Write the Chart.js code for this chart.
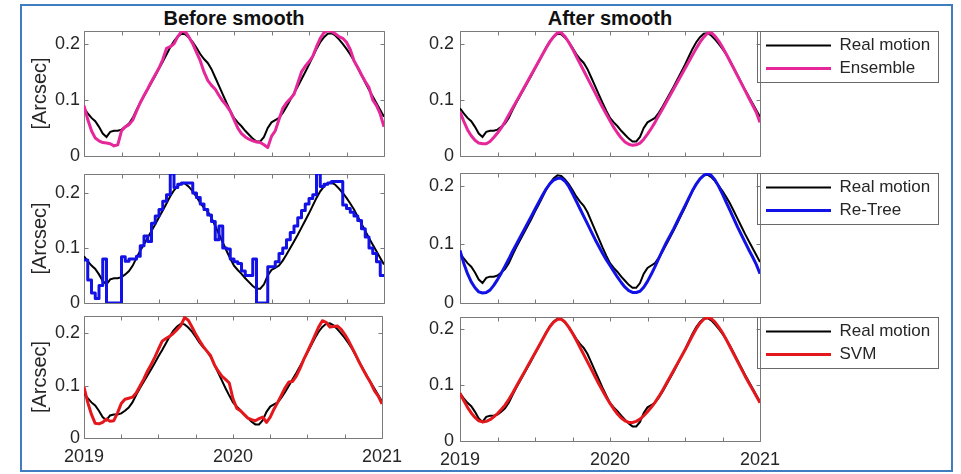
<!DOCTYPE html>
<html>
<head>
<meta charset="utf-8">
<script src="https://cdn.jsdelivr.net/npm/chart.js@4.4.1/dist/chart.umd.min.js"></script>
<style>
  html, body { margin: 0; padding: 0; background: #fff; }
  body { width: 961px; height: 474px; position: relative; overflow: hidden; font-family: "Liberation Sans", Arial, sans-serif; }
  .frame { position: absolute; left: 20px; top: 4px; width: 929px; height: 464px; border: 2px solid #3f7dc0; }
  canvas { position: absolute; }
  .title { position: absolute; width: 300px; text-align: center; font-weight: bold; font-size: 20px; line-height: 20px; color: #111; }
</style>
</head>
<body>
<div class="frame"></div>
<div class="title" style="left:84px; top:8px">Before smooth</div>
<div class="title" style="left:460px; top:8px">After smooth</div>
<canvas id="c1" width="389" height="161" style="left:21px; top:13px"></canvas>
<canvas id="c2" width="552" height="161" style="left:400px; top:13px"></canvas>
<canvas id="c3" width="389" height="165" style="left:21px; top:156px"></canvas>
<canvas id="c4" width="552" height="166" style="left:400px; top:155px"></canvas>
<canvas id="c5" width="389" height="170" style="left:21px; top:298px"></canvas>
<canvas id="c6" width="552" height="172" style="left:400px; top:299px"></canvas>
<script>
// sample times (decimal years)
const years = [
  2019, 2019.025, 2019.05, 2019.075, 2019.1, 2019.125, 2019.15, 2019.175, 2019.2, 2019.225,
  2019.25, 2019.275, 2019.3, 2019.325, 2019.35, 2019.375, 2019.4, 2019.425, 2019.45, 2019.475,
  2019.5, 2019.525, 2019.55, 2019.575, 2019.6, 2019.625, 2019.65, 2019.675, 2019.7, 2019.725,
  2019.75, 2019.775, 2019.8, 2019.825, 2019.85, 2019.875, 2019.9, 2019.925, 2019.95, 2019.975,
  2020, 2020.025, 2020.05, 2020.075, 2020.1, 2020.125, 2020.15, 2020.175, 2020.2, 2020.225,
  2020.25, 2020.275, 2020.3, 2020.325, 2020.35, 2020.375, 2020.4, 2020.425, 2020.45, 2020.475,
  2020.5, 2020.525, 2020.55, 2020.575, 2020.6, 2020.625, 2020.65, 2020.675, 2020.7, 2020.725,
  2020.75, 2020.775, 2020.8, 2020.825, 2020.85, 2020.875, 2020.9, 2020.925, 2020.95, 2020.975,
  2021
];

const realMotion = [
  0.085, 0.076, 0.068, 0.062, 0.052, 0.040, 0.034, 0.043, 0.045, 0.045,
  0.047, 0.052, 0.058, 0.068, 0.082, 0.095, 0.107, 0.119, 0.131, 0.143,
  0.156, 0.168, 0.181, 0.194, 0.205, 0.213, 0.218, 0.217, 0.211, 0.203,
  0.193, 0.182, 0.173, 0.166, 0.155, 0.140, 0.125, 0.110, 0.095, 0.081,
  0.068, 0.060, 0.053, 0.045, 0.038, 0.031, 0.026, 0.026, 0.034, 0.050,
  0.060, 0.064, 0.068, 0.077, 0.088, 0.100, 0.112, 0.124, 0.137, 0.150,
  0.163, 0.177, 0.191, 0.203, 0.212, 0.218, 0.219, 0.215, 0.208, 0.200,
  0.191, 0.181, 0.170, 0.157, 0.144, 0.131, 0.118, 0.106, 0.094, 0.082,
  0.070
];

const ensembleBefore = [
  0.090, 0.065, 0.045, 0.032, 0.027, 0.024, 0.023, 0.022, 0.018, 0.020,
  0.045, 0.052, 0.056, 0.064, 0.080, 0.095, 0.108, 0.120, 0.133, 0.145,
  0.157, 0.172, 0.192, 0.195, 0.200, 0.213, 0.222, 0.222, 0.212, 0.200,
  0.185, 0.170, 0.150, 0.135, 0.126, 0.119, 0.108, 0.098, 0.090, 0.080,
  0.065, 0.050, 0.040, 0.034, 0.030, 0.027, 0.025, 0.024, 0.020, 0.015,
  0.035, 0.045, 0.065, 0.085, 0.095, 0.102, 0.110, 0.130, 0.150, 0.160,
  0.168, 0.178, 0.195, 0.210, 0.220, 0.224, 0.222, 0.218, 0.213, 0.210,
  0.203, 0.190, 0.170, 0.158, 0.145, 0.133, 0.122, 0.100, 0.090, 0.075,
  0.052
];

const ensembleAfter = [
  0.079, 0.062, 0.047, 0.036, 0.028, 0.023, 0.022, 0.022, 0.026, 0.033,
  0.041, 0.050, 0.061, 0.073, 0.085, 0.097, 0.109, 0.121, 0.133, 0.145,
  0.157, 0.169, 0.181, 0.193, 0.204, 0.213, 0.220, 0.220, 0.213, 0.203,
  0.191, 0.178, 0.165, 0.152, 0.139, 0.126, 0.113, 0.100, 0.087, 0.075,
  0.063, 0.051, 0.041, 0.032, 0.025, 0.021, 0.019, 0.020, 0.023, 0.030,
  0.039, 0.049, 0.060, 0.072, 0.084, 0.096, 0.108, 0.120, 0.132, 0.144,
  0.156, 0.168, 0.180, 0.192, 0.203, 0.212, 0.219, 0.220, 0.214, 0.205,
  0.194, 0.182, 0.169, 0.156, 0.143, 0.130, 0.117, 0.104, 0.091, 0.078,
  0.060
];

const reTreeBefore = [
  0.080, 0.078, 0.042, 0.018, 0.008, 0.032, 0.080, 0.000, 0.000, 0.000,
  0.000, 0.084, 0.076, 0.080, 0.080, 0.085, 0.104, 0.122, 0.112, 0.145,
  0.158, 0.170, 0.185, 0.197, 0.235, 0.210, 0.216, 0.218, 0.218, 0.218,
  0.200, 0.192, 0.180, 0.170, 0.160, 0.148, 0.115, 0.140, 0.100, 0.098,
  0.080, 0.075, 0.072, 0.058, 0.050, 0.050, 0.080, 0.000, 0.000, 0.000,
  0.066, 0.066, 0.075, 0.090, 0.100, 0.115, 0.128, 0.140, 0.155, 0.168,
  0.180, 0.190, 0.197, 0.235, 0.212, 0.216, 0.218, 0.221, 0.221, 0.221,
  0.178, 0.172, 0.165, 0.158, 0.150, 0.135, 0.120, 0.100, 0.090, 0.075,
  0.050
];

const reTreeAfter = [
  0.090, 0.068, 0.050, 0.036, 0.026, 0.019, 0.017, 0.018, 0.022, 0.030,
  0.040, 0.051, 0.063, 0.075, 0.088, 0.100, 0.112, 0.124, 0.136, 0.148,
  0.160, 0.172, 0.184, 0.195, 0.204, 0.210, 0.213, 0.213, 0.208, 0.199,
  0.187, 0.174, 0.161, 0.148, 0.135, 0.122, 0.109, 0.097, 0.085, 0.074,
  0.064, 0.054, 0.044, 0.035, 0.027, 0.021, 0.018, 0.018, 0.020, 0.027,
  0.037, 0.049, 0.062, 0.076, 0.090, 0.103, 0.115, 0.127, 0.140, 0.153,
  0.166, 0.179, 0.192, 0.203, 0.212, 0.218, 0.221, 0.218, 0.210, 0.199,
  0.186, 0.172, 0.158, 0.144, 0.130, 0.117, 0.104, 0.091, 0.079, 0.066,
  0.050
];

const svmBefore = [
  0.097, 0.068, 0.045, 0.028, 0.027, 0.030, 0.036, 0.032, 0.033, 0.048,
  0.066, 0.074, 0.076, 0.078, 0.086, 0.099, 0.112, 0.127, 0.140, 0.154,
  0.170, 0.185, 0.190, 0.194, 0.200, 0.207, 0.215, 0.230, 0.225, 0.212,
  0.198, 0.186, 0.175, 0.166, 0.157, 0.140, 0.128, 0.118, 0.112, 0.105,
  0.075, 0.057, 0.052, 0.045, 0.038, 0.035, 0.033, 0.037, 0.040, 0.030,
  0.040, 0.055, 0.068, 0.082, 0.096, 0.107, 0.108, 0.118, 0.133, 0.150,
  0.165, 0.180, 0.196, 0.212, 0.224, 0.221, 0.212, 0.213, 0.214, 0.208,
  0.198, 0.186, 0.172, 0.158, 0.143, 0.130, 0.117, 0.105, 0.090, 0.080,
  0.065
];

const svmAfter = [
  0.085, 0.072, 0.060, 0.050, 0.042, 0.036, 0.034, 0.035, 0.038, 0.043,
  0.049, 0.056, 0.064, 0.074, 0.085, 0.097, 0.109, 0.121, 0.133, 0.145,
  0.157, 0.169, 0.181, 0.193, 0.204, 0.212, 0.217, 0.217, 0.212, 0.203,
  0.192, 0.180, 0.167, 0.154, 0.141, 0.128, 0.115, 0.102, 0.090, 0.078,
  0.067, 0.057, 0.048, 0.041, 0.036, 0.033, 0.033, 0.035, 0.039, 0.045,
  0.052, 0.060, 0.069, 0.079, 0.090, 0.102, 0.114, 0.126, 0.138, 0.150,
  0.162, 0.175, 0.188, 0.200, 0.210, 0.217, 0.220, 0.218, 0.212, 0.203,
  0.193, 0.181, 0.168, 0.155, 0.142, 0.129, 0.116, 0.104, 0.092, 0.080,
  0.068
];

const xTicks = [2019, 2019.25, 2019.5, 2019.75, 2020, 2020.25, 2020.5, 2020.75, 2021];
const xTickLabels = ['2019', '', '', '', '2020', '', '', '', '2021'];
const yTicks = [0, 0.1, 0.2];
const yTickLabels = ['0', '0.1', '0.2'];

const FONT = "'Liberation Sans', Arial, sans-serif";
Chart.defaults.font.family = FONT;
Chart.defaults.color = '#262626';

const PINK = '#e5279a', BLUE = '#1212e6', RED = '#e4171c';

const panels = [
  {id: 'c1', series: ensembleBefore, label: 'Ensemble', color: PINK, yMax: 0.223, left: true, bottom: false},
  {id: 'c2', series: ensembleAfter, label: 'Ensemble', color: PINK, yMax: 0.223, left: false, bottom: false},
  {id: 'c3', series: reTreeBefore, label: 'Re-Tree', color: BLUE, yMax: 0.2345, left: true, bottom: false, stepped: 'after'},
  {id: 'c4', series: reTreeAfter, label: 'Re-Tree', color: BLUE, yMax: 0.222, left: false, bottom: false},
  {id: 'c5', series: svmBefore, label: 'SVM', color: RED, yMax: 0.233, left: true, bottom: true},
  {id: 'c6', series: svmAfter, label: 'SVM', color: RED, yMax: 0.221, left: false, bottom: true}
];

function points(series) {
  return years.map((t, i) => ({x: t, y: series[i]}));
}

// matlab style box with inward ticks, plus a frame round the legend
const axisBox = {
  id: 'axisBox',
  beforeDatasetsDraw(chart) {
    const {ctx, chartArea: a, scales: {x, y}} = chart;
    const L = Math.round(a.left) + 0.5, R = Math.round(a.right) + 0.5;
    const T = Math.round(a.top) + 0.5, B = Math.round(a.bottom) + 0.5;
    ctx.save();
    ctx.strokeStyle = '#7a7a7a';
    ctx.lineWidth = 1;
    ctx.beginPath();
    ctx.rect(L, T, R - L, B - T);
    x.ticks.forEach(t => {
      const px = Math.round(x.getPixelForValue(t.value)) + 0.5;
      ctx.moveTo(px, B); ctx.lineTo(px, B - 4);
      ctx.moveTo(px, T); ctx.lineTo(px, T + 4);
    });
    y.ticks.forEach(t => {
      const py = Math.round(y.getPixelForValue(t.value)) + 0.5;
      ctx.moveTo(L, py); ctx.lineTo(L + 4, py);
      ctx.moveTo(R, py); ctx.lineTo(R - 4, py);
    });
    ctx.stroke();
    ctx.restore();
  },
  afterDraw(chart) {
    const lg = chart.legend;
    if (!lg || !lg.options.display || !lg.legendHitBoxes.length) return;
    const hb = lg.legendHitBoxes;
    const last = hb[hb.length - 1];
    const ctx = chart.ctx;
    const top = Math.round(lg.top) + 0.5;
    const bottom = Math.round(last.top + last.height + 5) + 0.5;
    ctx.save();
    ctx.strokeStyle = '#6a6a6a';
    ctx.lineWidth = 1;
    ctx.strokeRect(Math.round(lg.left - 3) + 0.5, top, 181, bottom - top);
    ctx.restore();
  }
};

panels.forEach(p => {
  new Chart(document.getElementById(p.id), {
    type: 'line',
    data: {
      datasets: [
        {label: 'Real motion', data: points(realMotion), borderColor: '#000', backgroundColor: '#000',
         borderWidth: 2, pointRadius: 0, order: 2},
        {label: p.label, data: points(p.series), borderColor: p.color, backgroundColor: p.color,
         borderWidth: 3, pointRadius: 0, stepped: p.stepped || false, borderJoinStyle: 'round', order: 1}
      ]
    },
    options: {
      responsive: false,
      animation: false,
      events: [],
      layout: {padding: {top: 18, right: p.left ? 26 : 12, bottom: 0, left: 0}},
      scales: {
        x: {
          type: 'linear', min: 2019, max: 2021,
          afterBuildTicks: s => { s.ticks = xTicks.map(v => ({value: v})); },
          afterFit: s => { s.height = p.bottom ? 30 : 18; },
          grid: {display: false, drawTicks: false},
          border: {display: false},
          ticks: {display: p.bottom, autoSkip: false, maxRotation: 0, padding: 8,
                  font: {size: 18}, color: '#262626', callback: (v, i) => xTickLabels[i]}
        },
        y: {
          min: 0, max: p.yMax,
          afterBuildTicks: s => { s.ticks = yTicks.map(v => ({value: v})); },
          afterFit: s => { s.width = p.left ? 63 : 60; },
          grid: {display: false, drawTicks: false},
          border: {display: false},
          ticks: {padding: p.left ? 4 : 6, font: {size: 18}, color: '#262626',
                  callback: (v, i) => yTickLabels[i]},
          title: {display: p.left, text: '[Arcsec]', font: {size: 20}, color: '#262626',
                  padding: {top: 7, bottom: 0}}
        }
      },
      plugins: {
        tooltip: {enabled: false},
        legend: {
          display: !p.left,
          position: 'right',
          align: 'start',
          fullSize: false,
          maxWidth: 180,
          labels: {
            usePointStyle: true, pointStyle: 'line', pointStyleWidth: 65,
            padding: 6, color: '#262626', font: {size: 17},
            sort: (a, b) => a.datasetIndex - b.datasetIndex
          }
        }
      }
    },
    plugins: [axisBox]
  });
});
</script>
</body>
</html>
